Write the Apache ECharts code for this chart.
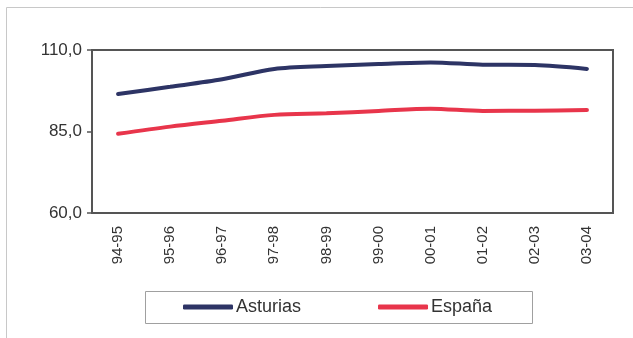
<!DOCTYPE html>
<html>
<head>
<meta charset="utf-8">
<script src="https://cdn.jsdelivr.net/npm/echarts@6/dist/echarts.min.js"></script>
<style>html,body{margin:0;padding:0;background:#fff;}#c{width:633px;height:338px;}</style>
</head>
<body>
<div id="c"></div>
<script>
var categories = ['94-95','95-96','96-97','97-98','98-99','99-00','00-01','01-02','02-03','03-04'];
var asturias = [96.5, 98.7, 101.0, 104.2, 105.1, 105.7, 106.2, 105.5, 105.4, 104.2];
var espana = [84.3, 86.5, 88.3, 90.1, 90.6, 91.3, 92.0, 91.3, 91.4, 91.6];
var seriesNames = ['Asturias', 'España'];

var chart = echarts.init(document.getElementById('c'), null, {renderer: 'canvas'});
chart.setOption({
  animation: false,
  backgroundColor: '#fff',
  textStyle: {fontFamily: 'Liberation Sans, Arial, sans-serif'},
  graphic: [
    {type: 'rect', shape: {x: 6.5, y: 7.5, width: 700, height: 400}, style: {fill: 'none', stroke: '#c8c8c8', lineWidth: 1}, silent: true},
    {type: 'rect', shape: {x: 145.5, y: 291.5, width: 387, height: 32}, style: {fill: 'none', stroke: '#a0a0a0', lineWidth: 1}, silent: true}
  ],
  grid: {left: 92, top: 50, right: 20, bottom: 125, show: true, borderColor: '#555', borderWidth: 2, backgroundColor: '#fff'},
  legend: {
    left: 178, top: 293,
    itemWidth: 50, itemHeight: 5, itemGap: 77,
    icon: 'roundRect',
    textStyle: {fontSize: 18, color: '#333', padding: [0, 0, 0, -2]},
    data: seriesNames
  },
  xAxis: {
    type: 'category', data: categories, boundaryGap: true,
    axisLine: {show: false}, axisTick: {show: false},
    axisLabel: {rotate: 90, fontSize: 15, color: '#333', margin: 13, interval: 0}
  },
  yAxis: {
    type: 'value', min: 60, max: 110, interval: 25,
    axisLine: {show: false},
    axisTick: {show: true, length: 5, lineStyle: {color: '#555', width: 1.5}},
    splitLine: {show: false},
    axisLabel: {fontSize: 17, color: '#333', margin: 10, formatter: function(v){ return v.toFixed(1).replace('.', ','); }}
  },
  series: [
    {name: seriesNames[0], type: 'line', data: asturias, smooth: 0.3, symbol: 'none', lineStyle: {width: 4, color: '#2d3465', cap: 'round'}, itemStyle: {color: '#2d3465'}},
    {name: seriesNames[1], type: 'line', data: espana, smooth: 0.3, symbol: 'none', lineStyle: {width: 4, color: '#e8354b', cap: 'round'}, itemStyle: {color: '#e8354b'}}
  ]
});
</script>
</body>
</html>
